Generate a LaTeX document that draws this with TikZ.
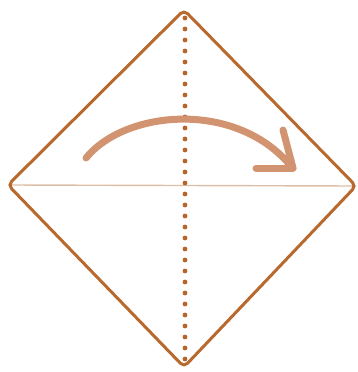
\documentclass[tikz,border=0pt]{standalone}
\definecolor{edgebrown}{HTML}{B8692E}
\definecolor{creaseline}{HTML}{DDBFA8}
\definecolor{arrowbrown}{HTML}{D29470}
\definecolor{dotbrown}{HTML}{B8632A}
\tikzset{
  paperedge/.style={draw=edgebrown, line width=3pt, rounded corners=5pt, line join=round},
  crease/.style={draw=creaseline, line width=1.4pt},
  foldarrow/.style={draw=arrowbrown, line width=7pt, line cap=round, line join=round},
}
\begin{document}
\begin{tikzpicture}[x=1pt,y=-1pt]
\useasboundingbox (0,0) rectangle (358,372);
\coordinate (T) at (184,10);
\coordinate (L) at (8,185);
\coordinate (R) at (356,186);
\coordinate (B) at (184,367);
\draw[crease] (L) -- (R);
\draw[paperedge] (T) -- (R) -- (B) -- (L) -- cycle;
\foreach \yy in {18,29,...,360} {
  \fill[dotbrown] (185,\yy) circle (2.4pt);
}
\coordinate (s) at (86,158);
\coordinate (e) at (290,165);
\coordinate (tip) at (293,168);
\draw[foldarrow] (s) .. controls (125,110) and (235,100) .. (e);
\draw[foldarrow] (tip) -- (283,130);
\draw[foldarrow] (tip) -- (256,168);
\end{tikzpicture}
\end{document}
